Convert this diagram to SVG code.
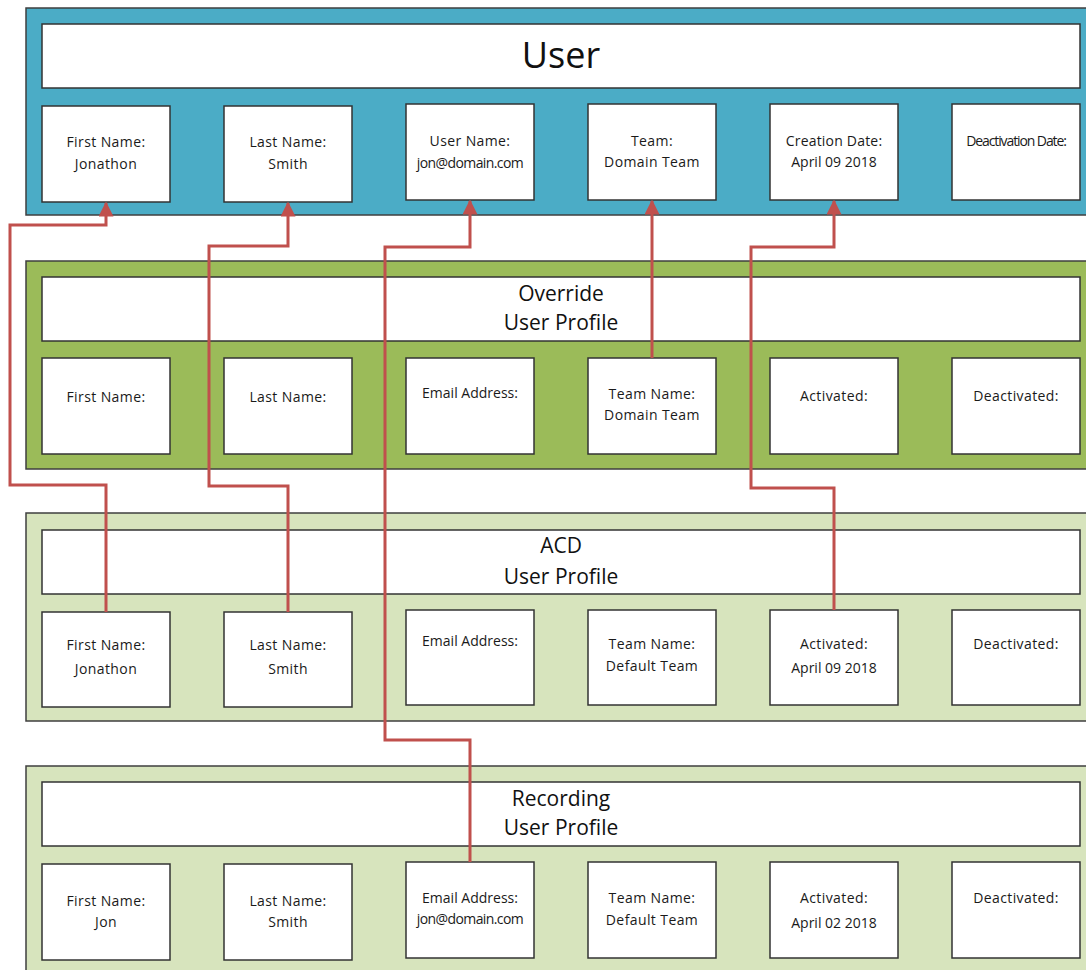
<svg xmlns="http://www.w3.org/2000/svg" width="1086" height="970" viewBox="0 0 1086 970">
<defs>
<style>
.panel{stroke:#3f3f3f;stroke-width:1.5}
.user{fill:#4bacc6}
.ovr{fill:#9bbb59}
.lite{fill:#d7e4bd}
.box{fill:#fff;stroke:#333;stroke-width:1.5}
.t{font-family:"Open Sans","Noto Sans",sans-serif;font-size:14px;letter-spacing:0.4px;fill:#1a1a1a;text-anchor:middle}
.h1{font-family:"Open Sans","Noto Sans",sans-serif;font-size:36px;fill:#111;text-anchor:middle}
.h2{font-family:"Open Sans","Noto Sans",sans-serif;font-size:21px;fill:#111;text-anchor:middle}
.c{fill:none;stroke:#c0504d;stroke-width:3;stroke-linejoin:miter}
</style>
<marker id="arr" viewBox="0 0 10 10" refX="9" refY="5" markerWidth="5" markerHeight="5" markerUnits="strokeWidth" orient="auto">
<path d="M0,0 L10,5 L0,10 z" fill="#c0504d"/>
</marker>
</defs>

<g id="panel-user">
<rect class="panel user" x="26" y="8" width="1070" height="207"/>
<rect class="box" x="42" y="24" width="1038" height="64"/>
<text class="h1" x="561" y="68">User</text>
</g>
<g id="user-first"><rect class="box" x="42" y="106" width="128" height="96"/><text class="t" x="106" y="147">First Name:</text><text class="t" x="106" y="169">Jonathon</text></g>
<g id="user-last"><rect class="box" x="224" y="106" width="128" height="96"/><text class="t" x="288" y="147">Last Name:</text><text class="t" x="288" y="169">Smith</text></g>
<g id="user-name"><rect class="box" x="406" y="104" width="128" height="96"/><text class="t" x="470" y="146">User Name:</text><text class="t" x="470" y="168" style="letter-spacing:-0.6px">jon@domain.com</text></g>
<g id="user-team"><rect class="box" x="588" y="104" width="128" height="96"/><text class="t" x="652" y="146">Team:</text><text class="t" x="652" y="167">Domain Team</text></g>
<g id="user-created"><rect class="box" x="770" y="104" width="128" height="96"/><text class="t" x="834" y="146" style="letter-spacing:0.2px">Creation Date:</text><text class="t" x="834" y="167" style="letter-spacing:0">April 09 2018</text></g>
<g id="user-deact"><rect class="box" x="952" y="104" width="128" height="96"/><text class="t" x="1016" y="146" style="letter-spacing:-1.1px">Deactivation Date:</text></g>

<g id="panel-override">
<rect class="panel ovr" x="26" y="261" width="1070" height="208"/>
<rect class="box" x="42" y="277" width="1038" height="64"/>
<text class="h2" x="561" y="301">Override</text>
<text class="h2" x="561" y="330">User Profile</text>
</g>
<g id="ovr-first"><rect class="box" x="42" y="358" width="128" height="96"/><text class="t" x="106" y="402">First Name:</text></g>
<g id="ovr-last"><rect class="box" x="224" y="358" width="128" height="96"/><text class="t" x="288" y="402">Last Name:</text></g>
<g id="ovr-email"><rect class="box" x="406" y="358" width="128" height="96"/><text class="t" x="470" y="398" style="letter-spacing:0">Email Address:</text></g>
<g id="ovr-team"><rect class="box" x="588" y="358" width="128" height="96"/><text class="t" x="652" y="399">Team Name:</text><text class="t" x="652" y="420">Domain Team</text></g>
<g id="ovr-act"><rect class="box" x="770" y="358" width="128" height="96"/><text class="t" x="834" y="401">Activated:</text></g>
<g id="ovr-deact"><rect class="box" x="952" y="358" width="128" height="96"/><text class="t" x="1016" y="401">Deactivated:</text></g>

<g id="panel-acd">
<rect class="panel lite" x="26" y="513" width="1070" height="208"/>
<rect class="box" x="42" y="530" width="1038" height="64"/>
<text class="h2" x="561" y="553">ACD</text>
<text class="h2" x="561" y="584">User Profile</text>
</g>
<g id="acd-first"><rect class="box" x="42" y="612" width="128" height="95"/><text class="t" x="106" y="650">First Name:</text><text class="t" x="106" y="674">Jonathon</text></g>
<g id="acd-last"><rect class="box" x="224" y="612" width="128" height="95"/><text class="t" x="288" y="650">Last Name:</text><text class="t" x="288" y="674">Smith</text></g>
<g id="acd-email"><rect class="box" x="406" y="610" width="128" height="95"/><text class="t" x="470" y="646" style="letter-spacing:0">Email Address:</text></g>
<g id="acd-team"><rect class="box" x="588" y="610" width="128" height="95"/><text class="t" x="652" y="649">Team Name:</text><text class="t" x="652" y="671">Default Team</text></g>
<g id="acd-act"><rect class="box" x="770" y="610" width="128" height="95"/><text class="t" x="834" y="649">Activated:</text><text class="t" x="834" y="673" style="letter-spacing:0">April 09 2018</text></g>
<g id="acd-deact"><rect class="box" x="952" y="610" width="128" height="95"/><text class="t" x="1016" y="649">Deactivated:</text></g>

<g id="panel-recording">
<rect class="panel lite" x="26" y="766" width="1070" height="220"/>
<rect class="box" x="42" y="782" width="1038" height="64"/>
<text class="h2" x="561" y="806">Recording</text>
<text class="h2" x="561" y="835">User Profile</text>
</g>
<g id="rec-first"><rect class="box" x="42" y="864" width="128" height="96"/><text class="t" x="106" y="906">First Name:</text><text class="t" x="106" y="927">Jon</text></g>
<g id="rec-last"><rect class="box" x="224" y="864" width="128" height="96"/><text class="t" x="288" y="906">Last Name:</text><text class="t" x="288" y="927">Smith</text></g>
<g id="rec-email"><rect class="box" x="406" y="862" width="128" height="96"/><text class="t" x="470" y="903" style="letter-spacing:0">Email Address:</text><text class="t" x="470" y="924" style="letter-spacing:-0.6px">jon@domain.com</text></g>
<g id="rec-team"><rect class="box" x="588" y="862" width="128" height="96"/><text class="t" x="652" y="903">Team Name:</text><text class="t" x="652" y="925">Default Team</text></g>
<g id="rec-act"><rect class="box" x="770" y="862" width="128" height="96"/><text class="t" x="834" y="903">Activated:</text><text class="t" x="834" y="928" style="letter-spacing:0">April 02 2018</text></g>
<g id="rec-deact"><rect class="box" x="952" y="862" width="128" height="96"/><text class="t" x="1016" y="903">Deactivated:</text></g>

<g id="connectors">
<path class="c" marker-end="url(#arr)" d="M106,612 V485 H10 V225 H106 V203"/>
<path class="c" marker-end="url(#arr)" d="M288,612 V486 H209 V246 H288 V203"/>
<path class="c" marker-end="url(#arr)" d="M470,862 V740 H385 V247 H470 V201"/>
<path class="c" marker-end="url(#arr)" d="M652,358 V201"/>
<path class="c" marker-end="url(#arr)" d="M834,610 V488 H751 V247 H834 V201"/>
</g>
</svg>
